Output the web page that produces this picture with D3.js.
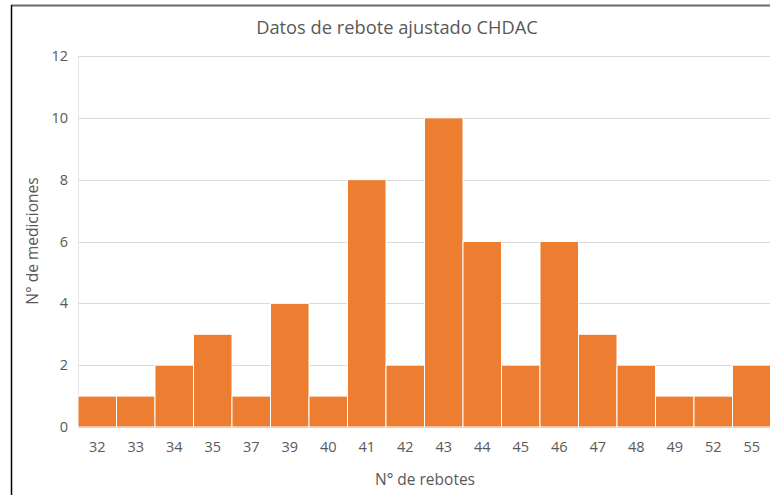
<!DOCTYPE html>
<html>
<head>
<meta charset="utf-8">
<script src="https://cdn.jsdelivr.net/npm/d3@7"></script>
<style>
  html, body { margin: 0; padding: 0; background: #fff; }
  svg { display: block; }
  text { font-family: "Open Sans", "Noto Sans", sans-serif; fill: #595959; }
</style>
</head>
<body>
<svg id="chart" width="770" height="495"></svg>
<script>
// Rebound measurements: rebound count vs number of measurements
const rebotes = ["32","33","34","35","37","39","40","41","42","43","44","45","46","47","48","49","52","55"];
const mediciones = [1,1,2,3,1,4,1,8,2,10,6,2,6,3,2,1,1,2];
const yTicks = [0,2,4,6,8,10,12];

const svg = d3.select("#chart");
const W = 770, H = 495;
const m = { left: 78, right: -1, top: 56, bottom: 68 };

// chart frame (top and left edges)
svg.append("line").attr("x1", 11).attr("x2", W).attr("y1", 5.5).attr("y2", 5.5)
  .attr("stroke", "#6b6b6b").attr("stroke-width", 2);
svg.append("line").attr("x1", 11.5).attr("x2", 11.5).attr("y1", 5).attr("y2", H)
  .attr("stroke", "#000").attr("stroke-width", 1.5);

const x = d3.scaleBand().domain(rebotes).range([m.left, W - m.right]).padding(0);
const y = d3.scaleLinear().domain([0, 12]).range([H - m.bottom, m.top]);

// horizontal gridlines
svg.append("g").selectAll("line").data(yTicks.slice(1)).join("line")
  .attr("x1", m.left).attr("x2", W)
  .attr("y1", d => Math.round(y(d)) + 0.5).attr("y2", d => Math.round(y(d)) + 0.5)
  .attr("stroke", "#d9d9d9").attr("stroke-width", 1);
// left edge of plot
svg.append("line").attr("x1", m.left + 0.5).attr("x2", m.left + 0.5)
  .attr("y1", y(12)).attr("y2", y(0)).attr("stroke", "#e3e3e3");

// bars
svg.append("g").selectAll("rect").data(rebotes).join("rect")
  .attr("x", d => x(d))
  .attr("y", (d, i) => y(mediciones[i]))
  .attr("width", x.bandwidth())
  .attr("height", (d, i) => y(0) - y(mediciones[i]))
  .attr("fill", "#ED7D31")
  .attr("stroke", "#fff").attr("stroke-width", 1);

// baseline
svg.append("line").attr("x1", m.left).attr("x2", W)
  .attr("y1", y(0) + 0.5).attr("y2", y(0) + 0.5).attr("stroke", "#d9d9d9");

// y axis
const yAxis = d3.axisLeft(y).tickValues(yTicks).tickSize(0).tickPadding(10);
const gy = svg.append("g").attr("transform", `translate(${m.left},0)`).call(yAxis);
gy.select(".domain").remove();
gy.selectAll("text").attr("font-size", 14.5).style("fill", "#595959")
  .style("font-family", '"Open Sans", sans-serif');

// x axis
const xAxis = d3.axisBottom(x).tickSize(0).tickPadding(15);
const gx = svg.append("g").attr("transform", `translate(0,${y(0)})`).call(xAxis);
gx.select(".domain").remove();
gx.selectAll("text").attr("font-size", 14.5).style("fill", "#595959")
  .style("font-family", '"Open Sans", sans-serif');

// titles
svg.append("text").attr("x", 397).attr("y", 34).attr("text-anchor", "middle")
  .attr("font-size", 18.3).text("Datos de rebote ajustado CHDAC");
svg.append("text").attr("x", 425).attr("y", 485).attr("text-anchor", "middle")
  .attr("font-size", 15.5).text("N° de rebotes");
svg.append("text").attr("transform", "translate(38,241) rotate(-90)")
  .attr("text-anchor", "middle").attr("font-size", 15.5).text("N° de mediciones");
</script>
</body>
</html>
